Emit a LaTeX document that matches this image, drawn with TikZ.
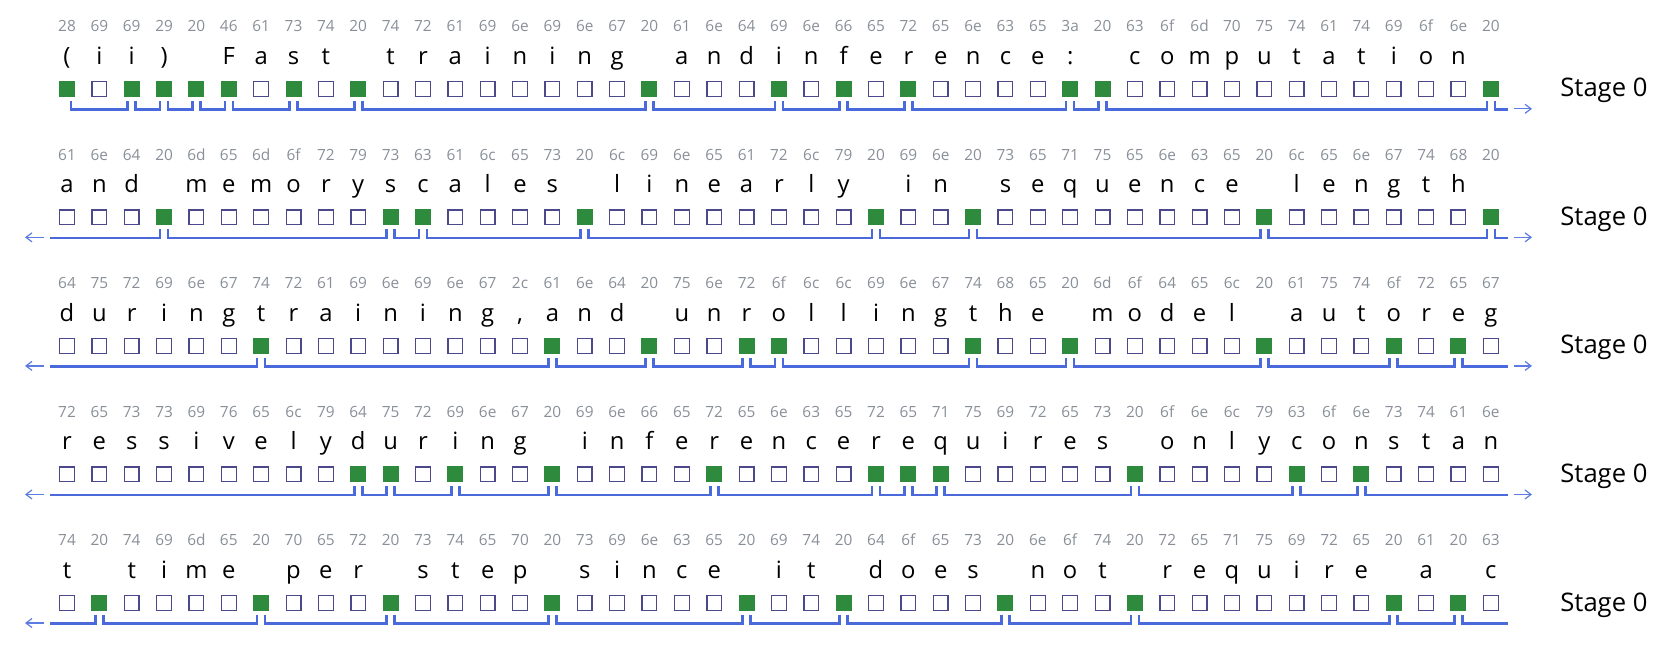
\documentclass[tikz,border=0pt]{standalone}
\usepackage{fontspec}
\setmainfont{Open Sans}
\usetikzlibrary{arrows.meta}
\definecolor{cgreen}{RGB}{46,138,60}
\definecolor{cbox}{RGB}{76,72,140}
\definecolor{chex}{RGB}{137,143,152}
\definecolor{cbrk}{RGB}{74,106,219}
\definecolor{carr}{RGB}{92,124,226}
\tikzset{
 ebox/.style={draw=cbox, line width=0.65pt, fill=white, minimum size=7.35pt, inner sep=0pt, outer sep=0.325pt},
 gbox/.style={fill=cgreen, draw=none, minimum size=8pt, inner sep=0pt, outer sep=0pt},
 hexlbl/.style={text=chex, font=\fontsize{7.7}{9}\selectfont, inner sep=0pt, anchor=base},
 chr/.style={text=black, font=\fontsize{11.9}{14}\selectfont, inner sep=0pt, anchor=base},
 stagelbl/.style={text=black, font=\fontsize{12.8}{15}\selectfont, inner sep=0pt, anchor=base west},
 brk/.style={draw=cbrk, line width=1.3pt, line join=miter},
 flow/.style={draw=carr, line width=0.6pt, -{Straight Barb[length=3pt,width=4.5pt]}},
}
\makeatletter
\newcommand\hexchar[1]{\edef\hx@a{#1}\uppercase\expandafter{\expandafter\def\expandafter\hx@b\expandafter{\hx@a}}\char"\hx@b\relax}
\newcommand\drawrow[5]{%
 \pgfmathsetmacro\yr{88.8+128.55*(#1-1)}%
 \foreach \h [count=\i from 0] in {#2} {
   \pgfmathsetmacro\xc{67+32.36*\i}
   \node[hexlbl] (h#1-\i) at (\xc,\yr-57.2) {\h};
   \node[chr] (c#1-\i) at (\xc,\yr-24.5) {\hexchar{\h}};
   \edef\tmp{\noexpand\in@{,\i,}{,#3,}}\tmp
   \ifin@ \node[gbox] (b#1-\i) at (\xc,\yr) {}; \else \node[ebox] (b#1-\i) at (\xc,\yr) {}; \fi
 }
 \foreach \g [remember=\g as \p (initially -1)] in {#3} {
   \ifnum\p>-1
     \draw[brk] ([xshift=2pt,yshift=-2pt]b#1-\p.south) |- ([xshift=-2pt,yshift=-6.25pt]b#1-\g.south) -- ([xshift=-2pt,yshift=-2pt]b#1-\g.south);
   \fi
 }
 \coordinate (R#1) at (1508,\yr+20.5);
 \draw[brk] ([xshift=2pt,yshift=-2pt]b#1-#5.south) |- (R#1);
 \ifnum#1>1
   \coordinate (L#1) at (50,\yr+20.5);
   \coordinate (ALa#1) at (44,\yr+20);
   \coordinate (ALb#1) at (25,\yr+20);
   \draw[flow] (ALa#1) -- (ALb#1);
   \draw[brk] (L#1) -| ([xshift=-2pt,yshift=-2pt]b#1-#4.south);
 \fi
 \ifnum#1<5
   \coordinate (ARa#1) at (1514,\yr+20);
   \coordinate (ARb#1) at (1532,\yr+20);
   \draw[flow] (ARa#1) -- (ARb#1);
 \fi
 \node[stagelbl] (s#1) at (1560,\yr+8) {Stage 0};
}
\makeatother
\begin{document}
\begin{tikzpicture}[x=0.5pt,y=-0.5pt]
\useasboundingbox (0,0) rectangle (1660,664);
\drawrow{1}{28,69,69,29,20,46,61,73,74,20,74,72,61,69,6e,69,6e,67,20,61,6e,64,69,6e,66,65,72,65,6e,63,65,3a,20,63,6f,6d,70,75,74,61,74,69,6f,6e,20}{0,2,3,4,5,7,9,18,22,24,26,31,32,44}{0}{44}
\drawrow{2}{61,6e,64,20,6d,65,6d,6f,72,79,73,63,61,6c,65,73,20,6c,69,6e,65,61,72,6c,79,20,69,6e,20,73,65,71,75,65,6e,63,65,20,6c,65,6e,67,74,68,20}{3,10,11,16,25,28,37,44}{3}{44}
\drawrow{3}{64,75,72,69,6e,67,74,72,61,69,6e,69,6e,67,2c,61,6e,64,20,75,6e,72,6f,6c,6c,69,6e,67,74,68,65,20,6d,6f,64,65,6c,20,61,75,74,6f,72,65,67}{6,15,18,21,22,28,31,37,41,43}{6}{43}
\drawrow{4}{72,65,73,73,69,76,65,6c,79,64,75,72,69,6e,67,20,69,6e,66,65,72,65,6e,63,65,72,65,71,75,69,72,65,73,20,6f,6e,6c,79,63,6f,6e,73,74,61,6e}{9,10,12,15,20,25,26,27,33,38,40}{9}{40}
\drawrow{5}{74,20,74,69,6d,65,20,70,65,72,20,73,74,65,70,20,73,69,6e,63,65,20,69,74,20,64,6f,65,73,20,6e,6f,74,20,72,65,71,75,69,72,65,20,61,20,63}{1,6,10,15,21,24,29,33,41,43}{1}{43}
\end{tikzpicture}
\end{document}
